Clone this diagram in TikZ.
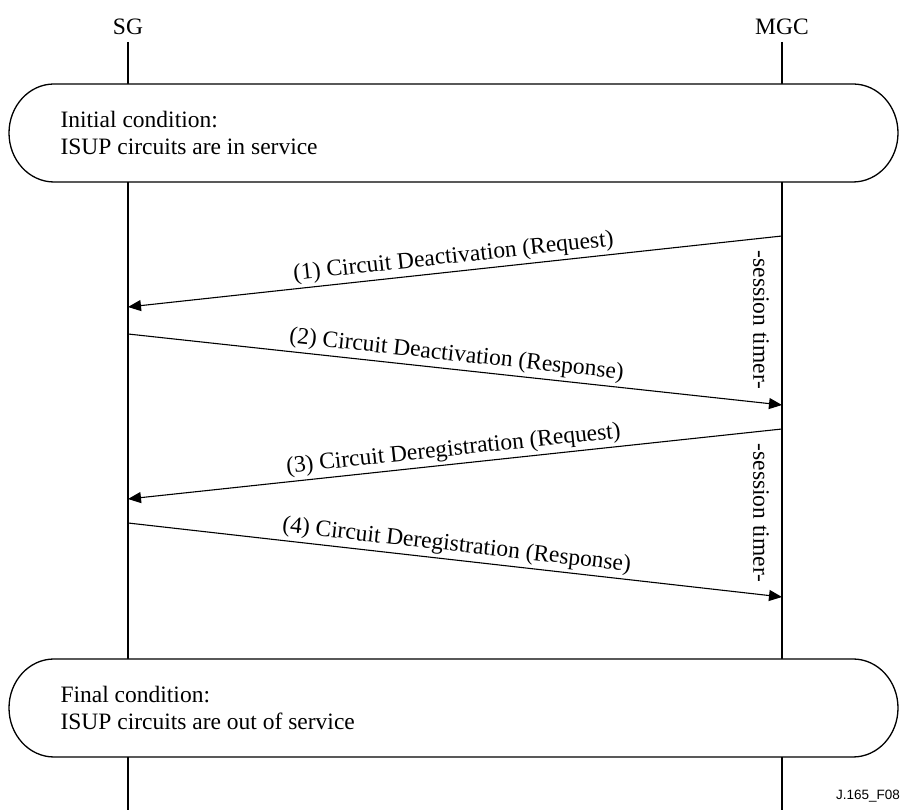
\documentclass[tikz,border=0pt]{standalone}
\usepackage{fontspec}
\setmainfont{Liberation Serif}
\newfontfamily\figsans{Liberation Sans}
\usetikzlibrary{arrows.meta}
\begin{document}
\begin{tikzpicture}[x=1pt,y=1pt,
  every node/.style={font=\fontsize{23.5}{27}\selectfont},
  lifeline/.style={line width=1.7pt},
  condbox/.style={draw,fill=white,line width=1.3pt},
  msg/.style={line width=1.1pt,-{Triangle[length=13pt,width=11pt]}},
  msglabel/.style={midway,above,sloped,inner sep=3pt},
  timer/.style={rotate=-90,inner sep=0pt}]
\useasboundingbox (0,0) rectangle (902,810);

% entity names and their lifelines
\node (sg)  at (128,783) {SG};
\node (mgc) at (782,783) {MGC};
\coordinate (sgtop)  at (128,768);
\coordinate (sgbot)  at (128,0);
\coordinate (mgctop) at (782,768);
\coordinate (mgcbot) at (782,0);
\draw[lifeline] (sgtop) -- (sgbot);
\draw[lifeline] (mgctop) -- (mgcbot);

% initial condition
\draw[condbox] (54,726) -- (853,726)
  arc[start angle=90,end angle=-90,x radius=45,y radius=49]
  -- (54,628)
  arc[start angle=270,end angle=90,x radius=45,y radius=49] -- cycle;
\node[anchor=west,align=left] (init) at (57,677)
  {Initial condition:\\ISUP circuits are in service};

% final condition
\draw[condbox] (54,151) -- (853,151)
  arc[start angle=90,end angle=-90,x radius=45,y radius=49]
  -- (54,53)
  arc[start angle=270,end angle=90,x radius=45,y radius=49] -- cycle;
\node[anchor=west,align=left] (final) at (57,102)
  {Final condition:\\ISUP circuits are out of service};

% message end points on the lifelines
\coordinate (m1a) at (782,574); \coordinate (m1b) at (128,503);
\coordinate (m2a) at (128,476); \coordinate (m2b) at (782,405);
\coordinate (m3a) at (782,381); \coordinate (m3b) at (128,311);
\coordinate (m4a) at (128,287); \coordinate (m4b) at (782,213);

\draw[msg] (m1a) -- node[msglabel] (l1) {(1) Circuit Deactivation (Request)} (m1b);
\draw[msg] (m2a) -- node[msglabel] (l2) {(2) Circuit Deactivation (Response)} (m2b);
\draw[msg] (m3a) -- node[msglabel] (l3) {(3) Circuit Deregistration (Request)} (m3b);
\draw[msg] (m4a) -- node[msglabel] (l4) {(4) Circuit Deregistration (Response)} (m4b);

% session timers
\node[timer] (t1) at (761,490) {-session timer-};
\node[timer] (t2) at (761,297) {-session timer-};

% figure tag
\node[anchor=base east,inner sep=0pt,font=\figsans\fontsize{13.5}{15}\selectfont] (tag) at (900,10) {J.165\_F08};
\end{tikzpicture}
\end{document}
